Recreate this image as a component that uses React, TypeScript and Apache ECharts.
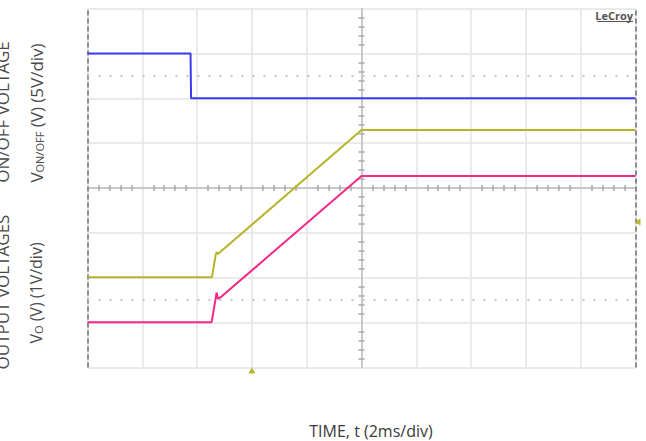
import React, { useEffect, useRef } from "react";
import * as echarts from "echarts";

// Time axis in ms (2 ms/div, 10 divisions, centre = 0 ms)
// Vertical values are in screen divisions (8 divisions, centre = 0)
const blueTime = [-10, -6.24, -6.22, 10];
const blueDiv = [3.0, 3.0, 2.0, 2.0];

const yellowTime = [-10, -5.46, -5.32, -5.29, -5.24, 0, 10];
const yellowDiv = [-1.99, -1.99, -1.49, -1.43, -1.47, 1.29, 1.29];

const pinkTime = [-10, -5.47, -5.33, -5.29, -5.24, -5.11, 0, 10];
const pinkDiv = [-2.99, -2.99, -2.49, -2.33, -2.47, -2.42, 0.27, 0.27];

const dottedLevels = [2.5, -2.5];
const triggerTime = -4;
const triggerLevel = -0.76;

const xTitle = "TIME, t (2ms/div)";
const upperOuter = "ON/OFF VOLTAGE";
const lowerOuter = "OUTPUT VOLTAGES";

const FONT = "'Open Sans', 'Noto Sans', sans-serif";

function zip(a: number[], b: number[]) {
  return a.map((v, i) => [v, b[i]]);
}

export default function App() {
  const ref = useRef<HTMLDivElement>(null);
  useEffect(() => {
    if (!ref.current) return;
    const chart = echarts.init(ref.current, null, { renderer: "svg" });
    const hiddenAxisBits = {
      axisLabel: { show: false },
      axisTick: { show: false },
    };
    const minor = {
      show: true,
      splitNumber: 5,
      length: 3,
      lineStyle: { color: "#a8a8a8", width: 1.5 },
    };
    chart.setOption({
      animation: false,
      backgroundColor: "#ffffff",
      grid: { left: 87.5, top: 8.5, width: 548, height: 359 },
      xAxis: [
        {
          type: "value",
          min: -10,
          max: 10,
          interval: 2,
          position: "bottom",
          ...hiddenAxisBits,
          axisLine: { show: true, onZero: true, lineStyle: { color: "#bcbcbc", width: 1.5 } },
          minorTick: minor,
          splitLine: { show: true, lineStyle: { color: "#e3e3e3", width: 1.5 } },
        },
        {
          type: "value",
          min: -10,
          max: 10,
          interval: 2,
          position: "top",
          offset: -179.5,
          ...hiddenAxisBits,
          axisLine: { show: false },
          minorTick: minor,
          splitLine: { show: false },
        },
      ],
      yAxis: [
        {
          type: "value",
          min: -4,
          max: 4,
          interval: 1,
          position: "left",
          ...hiddenAxisBits,
          axisLine: { show: true, onZero: true, lineStyle: { color: "#bcbcbc", width: 1.5 } },
          minorTick: minor,
          splitLine: { show: true, lineStyle: { color: "#e3e3e3", width: 1.5 } },
        },
        {
          type: "value",
          min: -4,
          max: 4,
          interval: 1,
          position: "right",
          offset: -274,
          ...hiddenAxisBits,
          axisLine: { show: false },
          minorTick: minor,
          splitLine: { show: false },
        },
      ],
      series: [
        {
          type: "line",
          data: zip(blueTime, blueDiv),
          showSymbol: false,
          lineStyle: { color: "#3a3af2", width: 2 },
          z: 5,
          markLine: {
            silent: true,
            symbol: "none",
            label: { show: false },
            data: [
              { xAxis: -10, lineStyle: { color: "#8c8c8c", width: 2, type: [5, 3] } },
              { xAxis: 10, lineStyle: { color: "#8c8c8c", width: 2, type: [5, 3] } },
              ...dottedLevels.map((v) => ({
                yAxis: v,
                lineStyle: { color: "#c4c4c4", width: 2, type: [2, 9] },
              })),
            ],
          },
        },
        {
          type: "line",
          data: zip(yellowTime, yellowDiv),
          showSymbol: false,
          lineStyle: { color: "#b6b42c", width: 2 },
          z: 5,
          markPoint: {
            silent: true,
            label: { show: false },
            itemStyle: { color: "#b6b42c" },
            data: [
              { coord: [triggerTime, -4], symbol: "triangle", symbolSize: [7, 6], symbolOffset: [0, 3] },
              { coord: [10, triggerLevel], symbol: "triangle", symbolSize: [7, 6], symbolRotate: 90, symbolOffset: [2, 0] },
            ],
          },
        },
        {
          type: "line",
          data: zip(pinkTime, pinkDiv),
          showSymbol: false,
          lineStyle: { color: "#f5288a", width: 2 },
          z: 5,
        },
      ],
      graphic: [
        {
          type: "text",
          x: 2,
          y: 112,
          rotation: Math.PI / 2,
          style: {
            text: upperOuter,
            fontSize: 17,
            fontFamily: FONT,
            fill: "#4a4a4a",
            align: "center",
            verticalAlign: "middle",
          },
        },
        {
          type: "text",
          x: 36,
          y: 113,
          rotation: Math.PI / 2,
          style: {
            text: "{a|V}{b|ON/OFF}{a| (V) (5V/div)}",
            align: "center",
            verticalAlign: "middle",
            rich: {
              a: { fontSize: 17, fontFamily: FONT, fill: "#4a4a4a", verticalAlign: "bottom" },
              b: { fontSize: 11, fontFamily: FONT, fill: "#4a4a4a", verticalAlign: "bottom" },
            },
          },
        },
        {
          type: "text",
          x: 2,
          y: 292,
          rotation: Math.PI / 2,
          style: {
            text: lowerOuter,
            fontSize: 17,
            fontFamily: FONT,
            fill: "#4a4a4a",
            align: "center",
            verticalAlign: "middle",
          },
        },
        {
          type: "text",
          x: 36,
          y: 293,
          rotation: Math.PI / 2,
          style: {
            text: "{a|V}{b|O}{a| (V) (1V/div)}",
            align: "center",
            verticalAlign: "middle",
            rich: {
              a: { fontSize: 16, fontFamily: FONT, fill: "#4a4a4a", verticalAlign: "bottom" },
              b: { fontSize: 11, fontFamily: FONT, fill: "#4a4a4a", verticalAlign: "bottom" },
            },
          },
        },
        {
          type: "text",
          x: 371,
          y: 431,
          style: {
            text: xTitle,
            fontSize: 16,
            fontFamily: FONT,
            fill: "#3a3a3a",
            align: "center",
            verticalAlign: "middle",
          },
        },
        {
          type: "text",
          x: 633,
          y: 15,
          style: {
            text: "LeCroy",
            fontSize: 11,
            fontFamily: FONT,
            fontWeight: "bold",
            fill: "#555555",
            align: "right",
            verticalAlign: "middle",
          },
        },
        {
          type: "line",
          shape: { x1: 597, y1: 21.5, x2: 633, y2: 21.5 },
          style: { stroke: "#555555", lineWidth: 1 },
        },
      ],
    });
    return () => chart.dispose();
  }, []);
  return (
    <div
      ref={ref}
      style={{ position: "absolute", left: 0, top: 0, width: 646, height: 441 }}
    />
  );
}
